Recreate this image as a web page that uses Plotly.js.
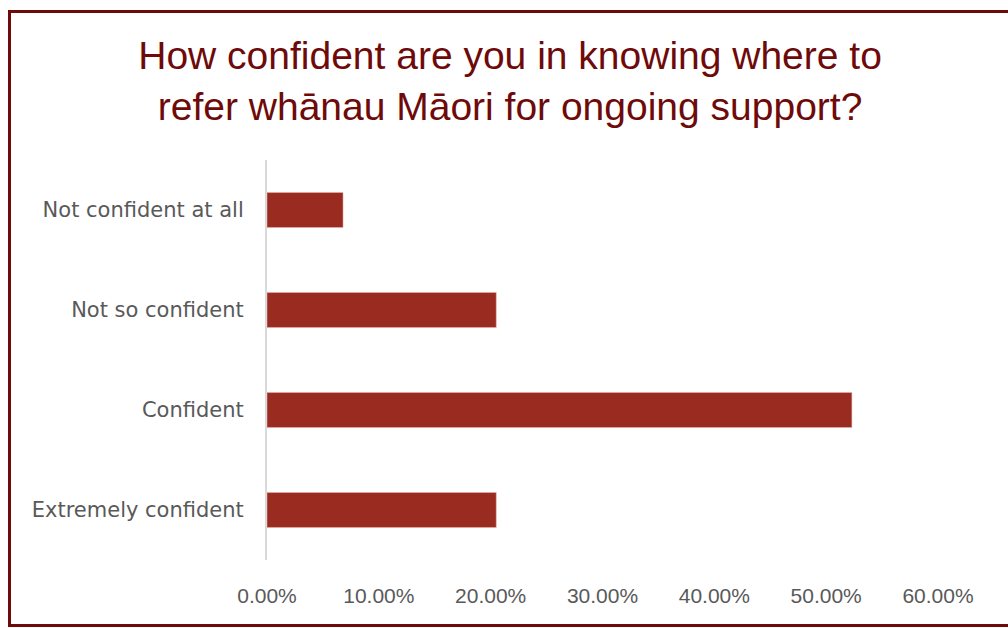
<!DOCTYPE html>
<html>
<head>
<meta charset="utf-8">
<script src="https://cdn.plot.ly/plotly-3.0.1.min.js"></script>
<style>
html,body{margin:0;padding:0;background:#fff;}
#wrap{position:relative;width:1008px;height:628px;overflow:hidden;}
#chart{position:absolute;left:0;top:0;width:1008px;height:628px;}
#frame{position:absolute;left:8px;top:10px;width:1010px;height:611px;border:3px solid #6e0a0a;pointer-events:none;}
</style>
</head>
<body>
<div id="wrap"><div id="chart"></div><div id="frame"></div></div>
<script>
const categories = ["Not confident at all", "Not so confident", "Confident", "Extremely confident"];
const shares = [0.068, 0.205, 0.523, 0.205];
const xTickValues = [0, 0.1, 0.2, 0.3, 0.4, 0.5, 0.6];
const xTickLabels = ["0.00%", "10.00%", "20.00%", "30.00%", "40.00%", "50.00%", "60.00%"];
const chartTitle = "How confident are you in knowing where to<br>refer whānau Māori for ongoing support?";

const trace = {
  type: "bar",
  orientation: "h",
  y: categories,
  x: shares,
  marker: {color: "#9a2b20", line: {color: "#e8b8b0", width: 0.5}},
  hoverinfo: "x+y"
};

const layout = {
  width: 1008, height: 628,
  paper_bgcolor: "rgba(0,0,0,0)", plot_bgcolor: "rgba(0,0,0,0)",
  margin: {l: 267, r: 70, t: 160, b: 68},
  bargap: 0.65,
  showlegend: false,
  title: {
    text: chartTitle,
    font: {family: "Liberation Sans, Arial, sans-serif", size: 39, color: "#6e0a0a"},
    x: 0.506, xref: "container", xanchor: "center",
    y: 1 - 69/628, yref: "container", yanchor: "top"
  },
  xaxis: {
    range: [0, 0.6], tickvals: xTickValues, ticktext: xTickLabels,
    showgrid: false, zeroline: false, showline: false, ticks: "",
    ticklabelstandoff: 21,
    tickfont: {family: "Liberation Sans, Arial, sans-serif", size: 21, color: "#595959"}
  },
  yaxis: {
    autorange: "reversed", type: "category",
    showgrid: false, zeroline: false, showline: true, linecolor: "#d9d9d9", linewidth: 2,
    ticks: "", ticklabelstandoff: 17,
    tickfont: {family: "DejaVu Sans, sans-serif", size: 21, color: "#595959"}
  }
};

Plotly.newPlot("chart", [trace], layout, {displayModeBar: false, staticPlot: true});
</script>
</body>
</html>
